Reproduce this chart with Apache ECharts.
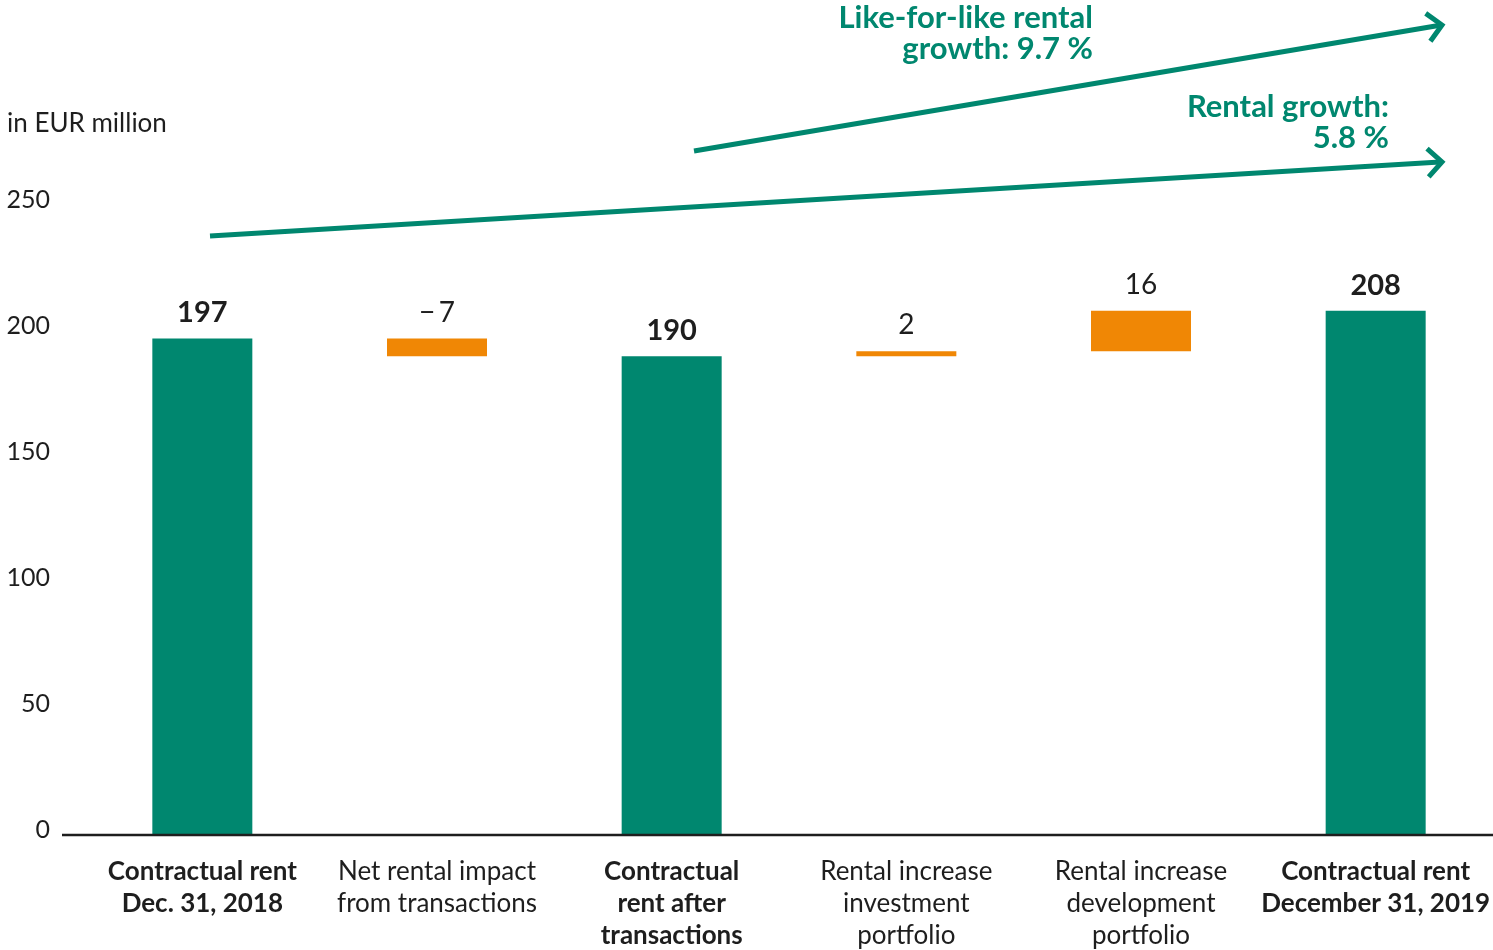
<!DOCTYPE html>
<html>
<head>
<meta charset="utf-8">
<script src="https://cdn.jsdelivr.net/npm/echarts@6/dist/echarts.min.js"></script>
<style>
  html, body { margin: 0; padding: 0; background: #fff; }
  #chart { width: 1493px; height: 950px; }
</style>
</head>
<body>
<div id="chart"></div>
<script>
// Contractual rent bridge, 2018 -> 2019 (EUR million)
const categories = [
  'Contractual rent\nDec. 31, 2018',
  'Net rental impact\nfrom transactions',
  'Contractual\nrent after\ntransactions',
  'Rental increase\ninvestment\nportfolio',
  'Rental increase\ndevelopment\nportfolio',
  'Contractual rent\nDecember 31, 2019'
];
// full-height totals (null where the column is a change step)
const totals = [197, null, 190, null, null, 208];
// change steps (null where the column is a total)
const changes = [null, -7, null, 2, 16, null];
const boldColumns = [0, 2, 5];
const yTicks = [0, 50, 100, 150, 200, 250];

const TEAL = '#00876f';
const ORANGE = '#f08705';
const INK = '#1e1e1e';
const FONT = 'Lato, "Open Sans", sans-serif';

// floating base for each change step, walking the running total
const base = [];
const stepSize = [];
let running = 0;
categories.forEach((c, i) => {
  if (totals[i] != null) {
    running = totals[i];
    base.push(null);
    stepSize.push(null);
  } else {
    const d = changes[i];
    const next = running + d;
    base.push(Math.min(running, next));
    stepSize.push({ value: Math.abs(d), change: d });
    running = next;
  }
});

const fmtChange = v => (v < 0 ? '\u2212\u2009' + Math.abs(v) : String(v));

const chart = echarts.init(document.getElementById('chart'));
chart.setOption({
  animation: false,
  backgroundColor: '#fff',
  grid: { left: 85, width: 1412, top: 205, bottom: 115, containLabel: false },
  xAxis: {
    type: 'category',
    data: categories,
    axisLine: { show: false },
    axisTick: { show: false },
    axisLabel: {
      interval: 0,
      margin: 21,
      formatter: (v, i) => {
        const tag = boldColumns.includes(i) ? 'b' : 'n';
        return v.split('\n').map(l => '{' + tag + '|' + l + '}').join('\n');
      },
      rich: {
        b: { fontFamily: FONT, fontSize: 26, fontWeight: 'bold', color: INK, lineHeight: 32 },
        n: { fontFamily: FONT, fontSize: 26, color: INK, lineHeight: 32 }
      }
    }
  },
  yAxis: {
    type: 'value',
    min: 0,
    max: 250,
    interval: 50,
    axisLine: { show: false },
    axisTick: { show: false },
    splitLine: { show: false },
    axisLabel: {
      margin: 35,
      formatter: v => (yTicks.includes(v) ? '{t|' + v + '}' : ''),
      rich: {
        t: { fontFamily: FONT, fontSize: 25, color: INK, lineHeight: 25, padding: [0, 0, 10, 0] }
      }
    }
  },
  series: [
    {
      type: 'bar',
      stack: 'bridge',
      barWidth: 100,
      itemStyle: { color: 'transparent' },
      data: base,
      silent: true
    },
    {
      type: 'bar',
      stack: 'bridge',
      barWidth: 100,
      itemStyle: { color: ORANGE },
      data: stepSize,
      label: {
        show: true,
        position: 'top',
        distance: 12,
        fontFamily: FONT,
        fontSize: 28,
        color: INK,
        formatter: p => (p.data ? fmtChange(p.data.change) : '')
      }
    },
    {
      type: 'bar',
      stack: 'bridge',
      barWidth: 100,
      itemStyle: { color: TEAL },
      data: totals,
      label: {
        show: true,
        position: 'top',
        distance: 11,
        fontFamily: FONT,
        fontSize: 29,
        fontWeight: 'bold',
        color: INK,
        formatter: p => (p.value != null ? String(p.value) : '')
      }
    }
  ]
});

// baseline reaching a little left of the plot; growth arrows and captions on top
const y0 = Math.round(chart.convertToPixel({ yAxisIndex: 0 }, 0));
const arrowStyle = { stroke: TEAL, lineWidth: 5, fill: null, lineCap: 'butt', lineJoin: 'miter' };
function arrow(x1, y1, x2, y2) {
  const ang = Math.atan2(y2 - y1, x2 - x1);
  const len = 20, spread = Math.PI / 4;
  const a1 = [x2 - len * Math.cos(ang - spread), y2 - len * Math.sin(ang - spread)];
  const a2 = [x2 - len * Math.cos(ang + spread), y2 - len * Math.sin(ang + spread)];
  return [
    { type: 'line', shape: { x1, y1, x2: x2 - 2 * Math.cos(ang), y2: y2 - 2 * Math.sin(ang) }, style: arrowStyle },
    { type: 'polyline', shape: { points: [a1, [x2, y2], a2] }, style: arrowStyle }
  ];
}
const captionStyle = {
  fontFamily: FONT, fontSize: 31, fontWeight: 'bold', fill: TEAL,
  align: 'right', verticalAlign: 'middle', lineHeight: 31
};
chart.setOption({
  graphic: [
    { type: 'line', z: 10, shape: { x1: 62, y1: y0, x2: 1493, y2: y0 }, style: { stroke: INK, lineWidth: 2.5 } },
    {
      type: 'text', left: 7, top: 111,
      style: { text: 'in EUR million', fontFamily: FONT, fontSize: 26, fill: INK }
    },
    ...arrow(210, 236, 1442, 162),
    ...arrow(694, 151, 1442, 25),
    { type: 'text', x: 1093, y: 33, style: Object.assign({ text: 'Like-for-like rental\ngrowth: 9.7 %' }, captionStyle) },
    { type: 'text', x: 1389, y: 122, style: Object.assign({ text: 'Rental growth:\n5.8 %' }, captionStyle) }
  ]
});
</script>
</body>
</html>
